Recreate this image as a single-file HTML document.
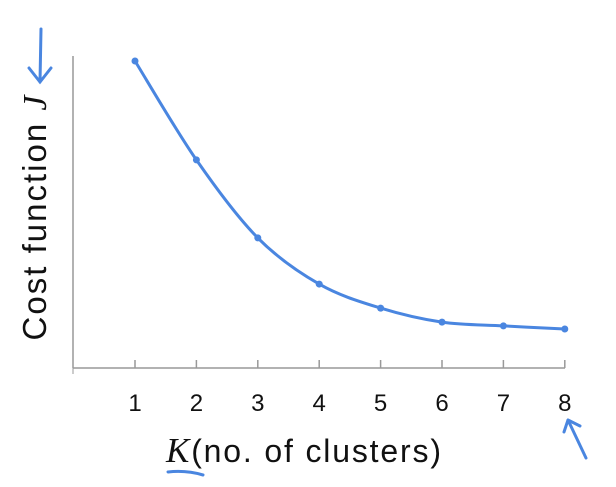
<!DOCTYPE html>
<html><head><meta charset="utf-8"><style>
body{margin:0;background:#fff;width:616px;height:487px;overflow:hidden}
svg{display:block}
text{font-family:"Liberation Sans",sans-serif;fill:#111}
</style></head><body>
<svg id="c" width="616" height="487">
<line x1="73" y1="56" x2="73" y2="368" stroke="#999" stroke-width="1.5"/>
<line x1="73" y1="368" x2="565" y2="368" stroke="#999" stroke-width="1.5"/>
<g id="ticks"></g>
<path id="line" fill="none" stroke="#4a86e0" stroke-width="3" stroke-linecap="round" stroke-linejoin="round"/>
<g id="pts"></g>
<text transform="translate(46,218) rotate(-90)" text-anchor="middle" font-size="33" textLength="245" lengthAdjust="spacing">Cost function <tspan font-family="Liberation Serif,serif" font-style="italic" font-size="34">J</tspan></text>
<text x="166" y="462" font-size="32" textLength="275" lengthAdjust="spacing"><tspan font-family="Liberation Serif,serif" font-style="italic" font-size="35">K</tspan>(no. of clusters)</text>
<g stroke="#4a86e0" stroke-width="3" fill="none" stroke-linecap="round">
<path d="M41 29 L40 82 M29 68 L40 82 L51 68"/>
<path d="M168 472 Q186 470 203 475"/>
<path d="M586 458 L568 420 M568 420 L564 432 M568 420 L580 426"/>
</g>
</svg>
<script>
const categories=[1,2,3,4,5,6,7,8];
const costValues=[98.4,66.7,41.7,26.9,19.2,14.7,13.5,12.5];
const x=k=>135+(k-1)*61.4;
const y=v=>368-v*3.12;
const ns="http://www.w3.org/2000/svg";
const tg=document.getElementById('ticks');
categories.forEach(k=>{
 const t=document.createElementNS(ns,'line');
 t.setAttribute('x1',x(k));t.setAttribute('x2',x(k));t.setAttribute('y1',360);t.setAttribute('y2',368);
 t.setAttribute('stroke','#999');t.setAttribute('stroke-width','1.5');
 
 
 tg.appendChild(t);
 const l=document.createElementNS(ns,'text');
 l.setAttribute('x',x(k));l.setAttribute('y',411);l.setAttribute('text-anchor','middle');l.setAttribute('font-size','24');
 l.textContent=k;
 
 
 tg.appendChild(l);
});
const t0=document.createElementNS(ns,'line');
t0.setAttribute('x1',73);t0.setAttribute('x2',73);t0.setAttribute('y1',360);t0.setAttribute('y2',374);t0.setAttribute('stroke','#999');


tg.appendChild(t0);
const P=categories.map((k,i)=>[x(k),y(costValues[i])]);
let d='M'+P[0][0]+' '+P[0][1];
for(let i=0;i<P.length-1;i++){
 const p0=P[i-1]||P[i],p1=P[i],p2=P[i+1],p3=P[i+2]||p2;
 d+=` C${p1[0]+(p2[0]-p0[0])/6} ${p1[1]+(p2[1]-p0[1])/6} ${p2[0]-(p3[0]-p1[0])/6} ${p2[1]-(p3[1]-p1[1])/6} ${p2[0]} ${p2[1]}`;
}
document.getElementById('line').setAttribute('d',d);
const pg=document.getElementById('pts');
P.forEach(p=>{
 const c=document.createElementNS(ns,'circle');
 c.setAttribute('cx',p[0]);c.setAttribute('cy',p[1]);c.setAttribute('r',3.5);c.setAttribute('fill','#4a86e0');
 
 
 pg.appendChild(c);
});
</script>
</body></html>
